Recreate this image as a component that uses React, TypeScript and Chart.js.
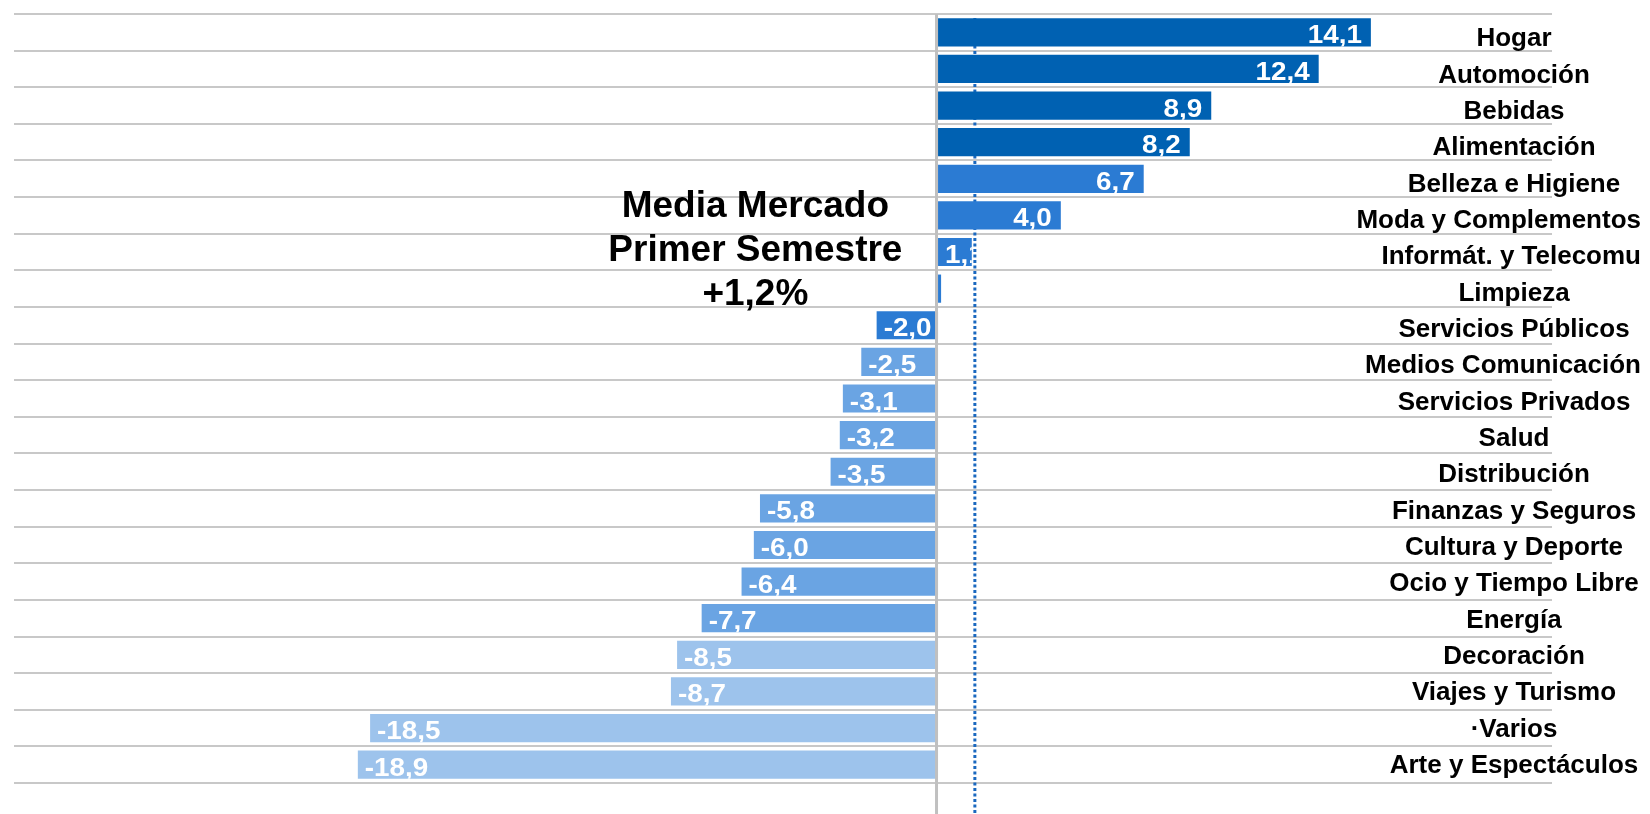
import React, { useEffect, useRef } from "react";
import { Chart, registerables } from "chart.js";

Chart.register(...registerables);

const categories = [
  "Hogar",
  "Automoción",
  "Bebidas",
  "Alimentación",
  "Belleza e Higiene",
  "Moda y Complementos",
  "Informát. y Telecomu",
  "Limpieza",
  "Servicios Públicos",
  "Medios Comunicación",
  "Servicios Privados",
  "Salud",
  "Distribución",
  "Finanzas y Seguros",
  "Cultura y Deporte",
  "Ocio y Tiempo Libre",
  "Energía",
  "Decoración",
  "Viajes y Turismo",
  "·Varios",
  "Arte y Espectáculos",
];

const values = [
  14.1, 12.4, 8.9, 8.2, 6.7, 4.0, 1.1, 0.1, -2.0, -2.5, -3.1, -3.2, -3.5, -5.8,
  -6.0, -6.4, -7.7, -8.5, -8.7, -18.5, -18.9,
];

const marketAverage = 1.2;
const titleLines = ["Media Mercado", "Primer Semestre", "+1,2%"];

const DARK = "#0061b2";
const MID = "#2b7bd3";
const LIGHT = "#6aa4e3";
const PALE = "#9dc3ec";
const barColors = [
  DARK, DARK, DARK, DARK,
  MID, MID, MID, MID, MID,
  LIGHT, LIGHT, LIGHT, LIGHT, LIGHT, LIGHT, LIGHT, LIGHT,
  PALE, PALE, PALE, PALE,
];

const fmt = (v: number) => v.toFixed(1).replace(".", ",");

const overlayPlugin = {
  id: "overlay",
  beforeDatasetsDraw(chart: any) {
    const { ctx, scales, chartArea } = chart;
    const x = scales.x.getPixelForValue(marketAverage);
    ctx.save();
    ctx.strokeStyle = "#1a68bf";
    ctx.lineWidth = 3;
    ctx.setLineDash([3, 2.5]);
    ctx.beginPath();
    ctx.moveTo(x, chartArea.top + 4);
    ctx.lineTo(x, chart.height);
    ctx.stroke();
    ctx.restore();
  },
  afterDatasetsDraw(chart: any) {
    const { ctx, scales, chartArea } = chart;
    const xs = scales.x;
    const ys = scales.y;
    // zero line
    const x0 = xs.getPixelForValue(0) - 1.5;
    ctx.save();
    ctx.strokeStyle = "#c0c0c0";
    ctx.lineWidth = 3;
    ctx.beginPath();
    ctx.moveTo(x0, chartArea.top);
    ctx.lineTo(x0, chart.height);
    ctx.stroke();
    ctx.restore();

    // value labels (slightly widened like the reference rendering)
    const meta = chart.getDatasetMeta(0);
    const sx = 1.07;
    ctx.save();
    ctx.font = "bold 26px 'Liberation Sans', Arial, sans-serif";
    ctx.fillStyle = "#ffffff";
    ctx.textBaseline = "alphabetic";
    meta.data.forEach((bar: any, i: number) => {
      const v = values[i];
      const left = Math.min(bar.x, bar.base);
      const right = Math.max(bar.x, bar.base);
      const w = right - left;
      if (w < 8) return;
      const h = bar.height;
      const text = fmt(v);
      const tw = ctx.measureText(text).width * sx;
      let tx: number;
      if (v >= 0) {
        tx = right - 9 - tw;
        if (tx < left + 7) tx = left + 7;
      } else {
        tx = left + 7;
      }
      ctx.save();
      ctx.beginPath();
      ctx.rect(left, bar.y - h / 2, w, h);
      ctx.clip();
      ctx.translate(tx, bar.y + 11);
      ctx.scale(sx, 1);
      ctx.fillText(text, 0, 0);
      ctx.restore();
    });
    ctx.restore();

    // category labels
    ctx.save();
    ctx.font = "bold 26px 'Liberation Sans', Arial, sans-serif";
    ctx.fillStyle = "#000000";
    ctx.textBaseline = "middle";
    ctx.textAlign = "left";
    const cx = chartArea.right - 38;
    const n = categories.length;
    categories.forEach((c, i) => {
      const y = ys.getPixelForValue(i) + 7 - (6 * i) / (n - 1);
      const tw = ctx.measureText(c).width;
      let tx = cx - tw / 2;
      if (tx + tw > chart.width - 9) tx = chart.width - 9 - tw;
      ctx.fillText(c, tx, y);
    });
    ctx.restore();

    // title annotation
    ctx.save();
    ctx.font = "bold 37px 'Liberation Sans', Arial, sans-serif";
    ctx.fillStyle = "#000000";
    ctx.textAlign = "center";
    ctx.textBaseline = "alphabetic";
    const tcx = xs.getPixelForValue(-5.95);
    const baselines = [217, 261, 305];
    titleLines.forEach((t, i) => ctx.fillText(t, tcx, baselines[i]));
    ctx.restore();
  },
};

export default function App() {
  const ref = useRef<HTMLCanvasElement | null>(null);
  useEffect(() => {
    if (!ref.current) return;
    const chart = new Chart(ref.current, {
      type: "bar",
      data: {
        labels: categories,
        datasets: [
          {
            data: values,
            backgroundColor: barColors,
            borderWidth: 0,
            barPercentage: 0.77,
            categoryPercentage: 1,
          },
        ],
      },
      options: {
        indexAxis: "y",
        animation: false,
        responsive: false,
        devicePixelRatio: 1,
        layout: { padding: { left: 14, right: 98, top: 14, bottom: 31 } },
        plugins: {
          legend: { display: false },
          tooltip: { enabled: false },
        },
        scales: {
          x: { type: "linear", min: -30.1, max: 20, display: false },
          y: {
            display: true,
            grid: { offset: true, color: "#c8c8c8", lineWidth: 2, drawTicks: false },
            ticks: { display: false },
            border: { display: false },
          },
        },
      },
      plugins: [overlayPlugin],
    } as any);
    return () => chart.destroy();
  }, []);
  return (
    <div style={{ position: "absolute", left: 0, top: 0, width: 1650, height: 814, background: "#fff" }}>
      <canvas ref={ref} width={1650} height={814} style={{ display: "block" }} />
    </div>
  );
}
